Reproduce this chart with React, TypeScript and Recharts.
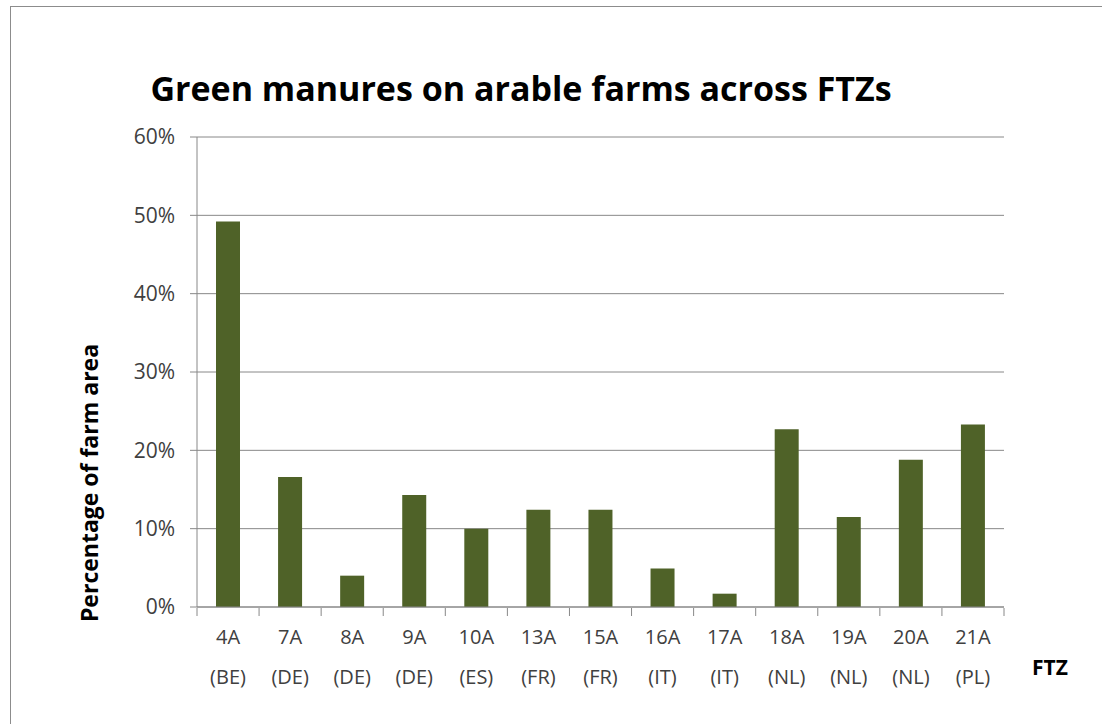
import { Bar, BarChart, CartesianGrid, XAxis, YAxis } from 'recharts'

const categories = ['4A', '7A', '8A', '9A', '10A', '13A', '15A', '16A', '17A', '18A', '19A', '20A', '21A']
const countries = ['(BE)', '(DE)', '(DE)', '(DE)', '(ES)', '(FR)', '(FR)', '(IT)', '(IT)', '(NL)', '(NL)', '(NL)', '(PL)']
const shares = [49.2, 16.6, 4.0, 14.3, 10.0, 12.4, 12.4, 4.9, 1.7, 22.7, 11.5, 18.8, 23.3]
const yTicks = [0, 10, 20, 30, 40, 50, 60]
const boundaries = [0, 1, 2, 3, 4, 5, 6, 7, 8, 9, 10, 11, 12, 13]

// slot = category index, used by the hidden numeric axis that draws the between-category tick marks
const data = categories.map((ftz, i) => ({ ftz, slot: i, country: countries[i], share: shares[i] }))

const font = '"Open Sans", sans-serif'
const gridColor = '#888888'
const textColor = '#404040'

function FtzTick(props: any) {
  const { x, y, payload, index } = props
  return (
    <g>
      <text x={x} y={y + 29} textAnchor="middle" dominantBaseline="central" fontSize={20} fill={textColor} fontFamily={font}>
        {payload.value}
      </text>
      <text x={x} y={y + 69} textAnchor="middle" dominantBaseline="central" fontSize={20} fill={textColor} fontFamily={font}>
        {countries[index]}
      </text>
    </g>
  )
}

export default function App() {
  return (
    <div style={{ position: 'absolute', left: 0, top: 0, width: 1102, height: 724, background: '#fff', overflow: 'hidden' }}>
      <div style={{ position: 'absolute', left: 10, top: 6, width: 1200, height: 800, border: '1px solid #8c8c8c' }} />
      <div
        style={{
          position: 'absolute',
          left: 0,
          width: 1042,
          top: 64,
          textAlign: 'center',
          fontFamily: font,
          fontWeight: 700,
          fontSize: 34,
          color: '#000',
          lineHeight: '48px',
        }}
      >
        Green manures on arable farms across FTZs
      </div>
      <div
        style={{
          position: 'absolute',
          left: 89,
          top: 483,
          transform: 'translate(-50%, -50%) rotate(-90deg)',
          whiteSpace: 'nowrap',
          fontFamily: font,
          fontWeight: 700,
          fontSize: 23,
          color: '#000',
        }}
      >
        Percentage of farm area
      </div>
      <div
        style={{
          position: 'absolute',
          left: 1050,
          top: 667,
          transform: 'translate(-50%, -50%)',
          fontFamily: font,
          fontWeight: 700,
          fontSize: 21,
          color: '#000',
        }}
      >
        FTZ
      </div>
      <div style={{ position: 'absolute', left: 0, top: 0 }}>
        <BarChart width={1102} height={724} data={data} margin={{ top: 137, right: 98, bottom: 115, left: 137 }}>
          <CartesianGrid vertical={false} stroke={gridColor} />
          <XAxis
            dataKey="ftz"
            height={1}
            axisLine={{ stroke: gridColor }}
            tickLine={false}
            tickSize={0}
            tickMargin={0}
            interval={0}
            tick={<FtzTick />}
          />
          <XAxis
            xAxisId="b"
            dataKey="slot"
            type="number"
            domain={[0, 13]}
            allowDataOverflow
            ticks={boundaries}
            interval={0}
            height={1}
            axisLine={false}
            tickLine={{ stroke: gridColor }}
            tickSize={8}
            tickFormatter={() => ''}
          />
          <YAxis
            width={60}
            domain={[0, 60]}
            ticks={yTicks}
            tickFormatter={(v) => `${v}%`}
            axisLine={{ stroke: gridColor }}
            tickLine={{ stroke: gridColor }}
            tickSize={7}
            tickMargin={15}
            tick={{ fontSize: 21, fill: textColor, fontFamily: font }}
          />
          <Bar dataKey="share" fill="#4f6228" barSize={24} isAnimationActive={false} />
        </BarChart>
      </div>
    </div>
  )
}
